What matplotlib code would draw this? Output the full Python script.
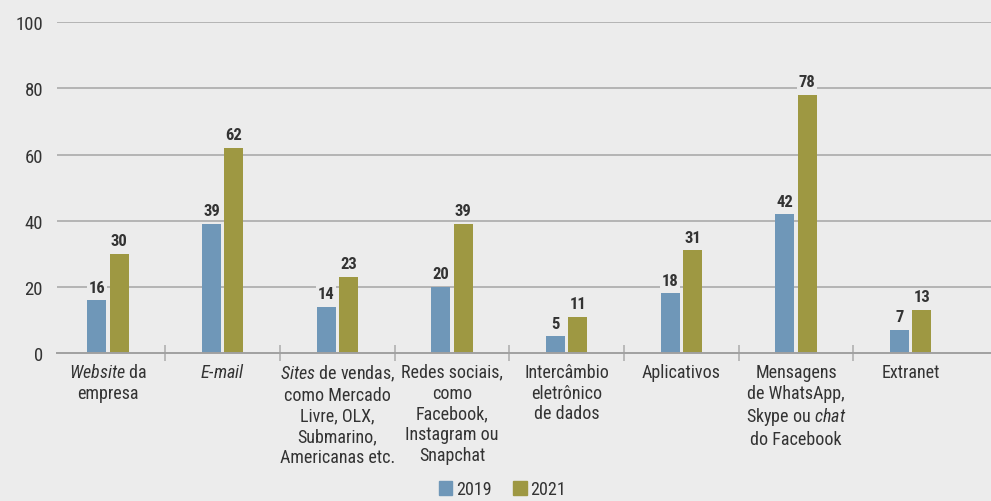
import matplotlib
matplotlib.use("Agg")
import matplotlib.pyplot as plt
from matplotlib import font_manager
from matplotlib.patches import Patch
import numpy as np

# Data
categories = [
    "$\\mathit{Website}$ da\nempresa",
    "$\\mathit{E\\text{-}mail}$",
    "$\\mathit{Sites}$ de vendas,\ncomo Mercado\nLivre, OLX,\nSubmarino,\nAmericanas etc.",
    "Redes sociais,\ncomo\nFacebook,\nInstagram ou\nSnapchat",
    "Intercâmbio\neletrônico\nde dados",
    "Aplicativos",
    "Mensagens\nde WhatsApp,\nSkype ou $\\mathit{chat}$\ndo Facebook",
    "Extranet",
]
series_names = ["2019", "2021"]
values_2019 = [16, 39, 14, 20, 5, 18, 42, 7]
values_2021 = [30, 62, 23, 39, 11, 31, 78, 13]
y_ticks = [0, 20, 40, 60, 80, 100]

# Pick a narrow sans family if available
available = {f.name for f in font_manager.fontManager.ttflist}
family = "DejaVu Sans"
for cand in ["Liberation Sans Narrow", "Roboto Condensed", "Open Sans Condensed", "Liberation Sans"]:
    if cand in available:
        family = cand
        break

plt.rcParams["font.family"] = [family, "DejaVu Sans"]
plt.rcParams["mathtext.fontset"] = "custom"
plt.rcParams["mathtext.rm"] = family
plt.rcParams["mathtext.it"] = family + ":italic"
plt.rcParams["mathtext.bf"] = family + ":bold"

BG = "#ececec"
BLUE = "#6f97b8"
OLIVE = "#9e9842"
GRID = "#ababab"
TEXT = "#333333"

fig = plt.figure(figsize=(9.91, 5.02), dpi=100, facecolor=BG)
ax = fig.add_axes([57 / 991, 148 / 502, 1 - 57 / 991, (354 - 23.3) / 502])
ax.set_facecolor(BG)

x = np.arange(len(categories))
w = 0.166
off = 0.097
b1 = ax.bar(x - off, values_2019, w, color=BLUE, zorder=3)
b2 = ax.bar(x + off, values_2021, w, color=OLIVE, zorder=3)

for bars, vals in ((b1, values_2019), (b2, values_2021)):
    for rect, v in zip(bars, vals):
        ax.annotate(str(v), (rect.get_x() + rect.get_width() / 2, v),
                    xytext=(0, 4), textcoords="offset points",
                    ha="center", va="bottom", fontsize=12, fontweight="bold",
                    color=TEXT, zorder=4,
                    bbox=dict(boxstyle="square,pad=0.1", fc=BG, ec="none"))

ax.set_ylim(0, 100)
ax.set_xlim(-0.444, 7.70)
ax.set_yticks(y_ticks)
ax.set_yticklabels([str(t) for t in y_ticks])
ax.tick_params(axis="y", length=0, pad=10, labelsize=13.5, labelcolor=TEXT)
for t in y_ticks[1:]:
    ax.axhline(t, color=GRID, lw=1.2, zorder=1)

ax.set_xticks(x)
ax.set_xticklabels(categories)
ax.tick_params(axis="x", which="major", length=0, pad=7, labelsize=13, labelcolor=TEXT)
ax.set_xticks(np.arange(len(categories) - 1) + 0.5, minor=True)
ax.tick_params(axis="x", which="minor", direction="inout", length=11, width=1.1, color=GRID)

for s in ["top", "right", "left"]:
    ax.spines[s].set_visible(False)
ax.spines["bottom"].set_color("#a0a0a0")
ax.spines["bottom"].set_linewidth(1.4)
ax.spines["bottom"].set_zorder(5)

handles = [Patch(color=BLUE, label=series_names[0]), Patch(color=OLIVE, label=series_names[1])]
fig.legend(handles=handles, loc="lower center", bbox_to_anchor=(0.507, -0.027), ncol=2,
           frameon=False, fontsize=13, handlelength=0.75, handleheight=0.75,
           handletextpad=0.2, columnspacing=1.2, labelcolor=TEXT)

fig.savefig("out.png", dpi=100, facecolor=BG)
